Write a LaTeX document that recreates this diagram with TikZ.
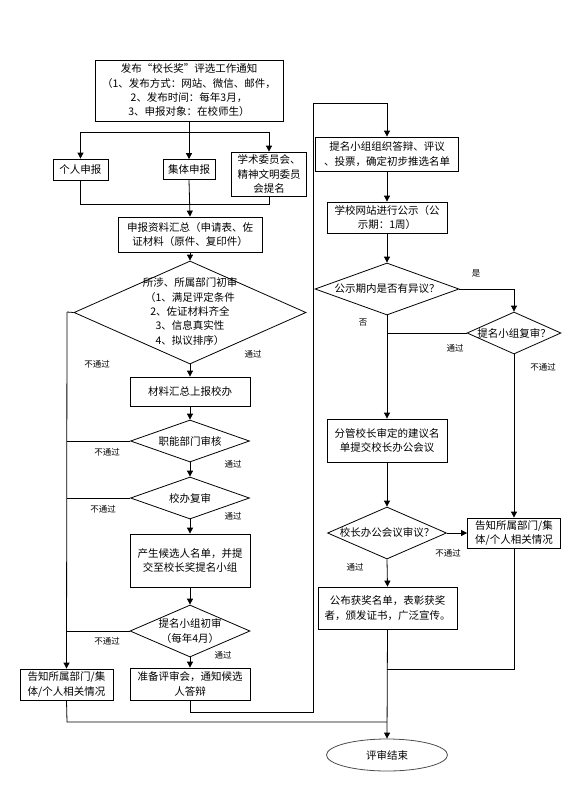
\documentclass[tikz,border=0pt]{standalone}
\usepackage{fontspec}
\setmainfont{Noto Sans CJK SC}
\usetikzlibrary{arrows.meta,shapes.geometric}
\begin{document}
\begin{tikzpicture}[x=1pt,y=-1pt,
  line width=0.8pt,
  every node/.style={font=\fontsize{10.5}{14.3}\selectfont, align=center, inner sep=0pt},
  box/.style={draw, rectangle},
  dia/.style={draw, diamond},
  txt/.style={},
  lbl/.style={font=\fontsize{8.5}{10}\selectfont},
  arr/.style={-{Triangle[width=6pt,length=6pt]}},
  endell/.style={draw=black!70, ellipse}
]
\useasboundingbox (0,0) rectangle (588,788);

% ---- left column nodes ----
\node[box, minimum width=188, minimum height=61] (notice) at (189,90.5)
  {发布“校长奖”评选工作通知\\（1、发布方式：网站、微信、邮件，\\2、发布时间：每年3月，\\3、申报对象：在校师生）};
\node[box, minimum width=55, minimum height=21] (geren) at (80.5,169.5) {个人申报};
\node[box, minimum width=52, minimum height=20] (jiti) at (189,169.5) {集体申报};
\node[box, minimum width=75, minimum height=44] (xueshu) at (269,174) {学术委员会、\\精神文明委员\\会提名};
\node[box, minimum width=144, minimum height=35] (huizong) at (190,234.5) {申报资料汇总（申请表、佐\\证材料（原件、复印件）};

\node[dia, minimum width=232, minimum height=103] (d1) at (190,312.5) {};
\node[txt] (d1t) at (190,311.5) {所涉、所属部门初审\\（1、满足评定条件\\2、佐证材料齐全\\3、信息真实性\\4、拟议排序）};

\node[box, minimum width=120, minimum height=29] (cailiao) at (190,391.5) {材料汇总上报校办};
\node[dia, minimum width=119, minimum height=42] (d2) at (190,441) {};
\node[txt] (d2t) at (d2) {职能部门审核};
\node[dia, minimum width=119, minimum height=42] (d3) at (190,498) {};
\node[txt] (d3t) at (d3) {校办复审};
\node[box, minimum width=120, minimum height=53] (chansheng) at (190,560.5) {产生候选人名单，并提\\交至校长奖提名小组};
\node[dia, minimum width=120, minimum height=52] (d4) at (190,631) {};
\node[txt] (d4t) at (d4) {提名小组初审\\（每年4月）};
\node[box, minimum width=93, minimum height=31] (gaozhi1) at (66.5,684.5) {告知所属部门/集\\体/个人相关情况};
\node[box, minimum width=120, minimum height=32] (zhunbei) at (190,684) {准备评审会，通知候选\\人答辩};

% ---- right column nodes ----
\node[box, minimum width=143, minimum height=34] (timing) at (387,154) {提名小组组织答辩、评议\\、投票，确定初步推选名单};
\node[box, minimum width=120, minimum height=31] (gongshi) at (387,217.5) {学校网站进行公示（公\\示期：1周）};
\node[dia, minimum width=144, minimum height=52] (d5) at (387,289) {};
\node[txt] (d5t) at (d5) {公示期内是否有异议？};
\node[dia, minimum width=94, minimum height=42] (d6) at (514,333) {};
\node[txt] (d6t) at (d6) {提名小组复审？};
\node[box, minimum width=120, minimum height=43] (fenguan) at (387,440.5) {分管校长审定的建议名\\单提交校长办公会议};
\node[dia, minimum width=119, minimum height=52] (d7) at (387,533) {};
\node[txt] (d7t) at (d7) {校长办公会议审议？};
\node[box, minimum width=93, minimum height=30] (gaozhi2) at (514,533) {告知所属部门/集\\体/个人相关情况};
\node[box, minimum width=139, minimum height=42] (gongbu) at (387.5,608) {公布获奖名单，表彰获奖\\者，颁发证书，广泛宣传。};
\node[endell, minimum width=121, minimum height=32] (endn) at (387,755) {评审结束};

% ---- coordinates ----
\coordinate (s1) at (189,132);
\coordinate (m1) at (189,204);
\coordinate (lft) at (67,312);
\coordinate (loopA) at (190,712);
\coordinate (loopB) at (313,712);
\coordinate (loopC) at (313,103);
\coordinate (loopD) at (387,103);
\coordinate (j6) at (387,333);
\coordinate (j9) at (387,669);
\coordinate (r9) at (514,669);
\coordinate (b1) at (67,722);
\coordinate (b2) at (387,722);

% ---- connectors left ----
\draw (notice.south) -- (s1);
\draw[arr] (s1) -| (geren.north);
\draw[arr] (s1) -| (xueshu.north);
\draw[arr] (s1) -- (jiti.north);
\draw (geren.south) |- (m1);
\draw (xueshu.south) |- (m1);
\draw[arr] (jiti.south) -- (huizong.north);
\draw[arr] (huizong.south) -- (d1.north);
\draw[arr] (d1.south) -- (cailiao.north);
\draw (d1.west) -- (lft);
\draw[arr] (lft) -- (gaozhi1.north);
\draw[arr] (cailiao.south) -- (d2.north);
\draw[arr] (d2.south) -- (d3.north);
\draw[arr] (d3.south) -- (chansheng.north);
\draw[arr] (chansheng.south) -- (d4.north);
\draw[arr] (d4.south) -- (zhunbei.north);
\draw (d2.west) -- (d2.west -| lft);
\draw (d3.west) -- (d3.west -| lft);
\draw (d4.west) -- (d4.west -| lft);
\draw[arr] (zhunbei.south) -- (loopA) -- (loopB) -- (loopC) -- (loopD) -- (timing.north);

% ---- connectors right ----
\draw[arr] (timing.south) -- (gongshi.north);
\draw[arr] (gongshi.south) -- (d5.north);
\draw[arr] (d5.east) -| (d6.north);
\draw[arr] (d5.south) -- (fenguan.north);
\draw (d6.west) -- (j6);
\draw[arr] (d6.south) -- (gaozhi2.north);
\draw[arr] (fenguan.south) -- (d7.north);
\draw[arr] (d7.east) -- (gaozhi2.west);
\draw[arr] (d7.south) -- (gongbu.north);
\draw (gaozhi2.south) -- (r9) -- (j9);
\draw[arr] (gongbu.south) -- (endn.north);
\draw (gaozhi1.south) -- (b1) -- (b2);

% ---- labels ----
\node[lbl] (l1) at (253,354) {通过};
\node[lbl] (l2) at (97,364) {不通过};
\node[lbl] (l3) at (107,452) {不通过};
\node[lbl] (l4) at (233,464) {通过};
\node[lbl] (l5) at (103,509) {不通过};
\node[lbl] (l6) at (233,516) {通过};
\node[lbl] (l7) at (107,641) {不通过};
\node[lbl] (l8) at (223,655) {通过};
\node[lbl] (l9) at (476,273) {是};
\node[lbl] (l10) at (363,323) {否};
\node[lbl] (l11) at (455,348) {通过};
\node[lbl] (l12) at (543,367) {不通过};
\node[lbl] (l13) at (448,553) {不通过};
\node[lbl] (l14) at (355,567) {通过};
\end{tikzpicture}
\end{document}
